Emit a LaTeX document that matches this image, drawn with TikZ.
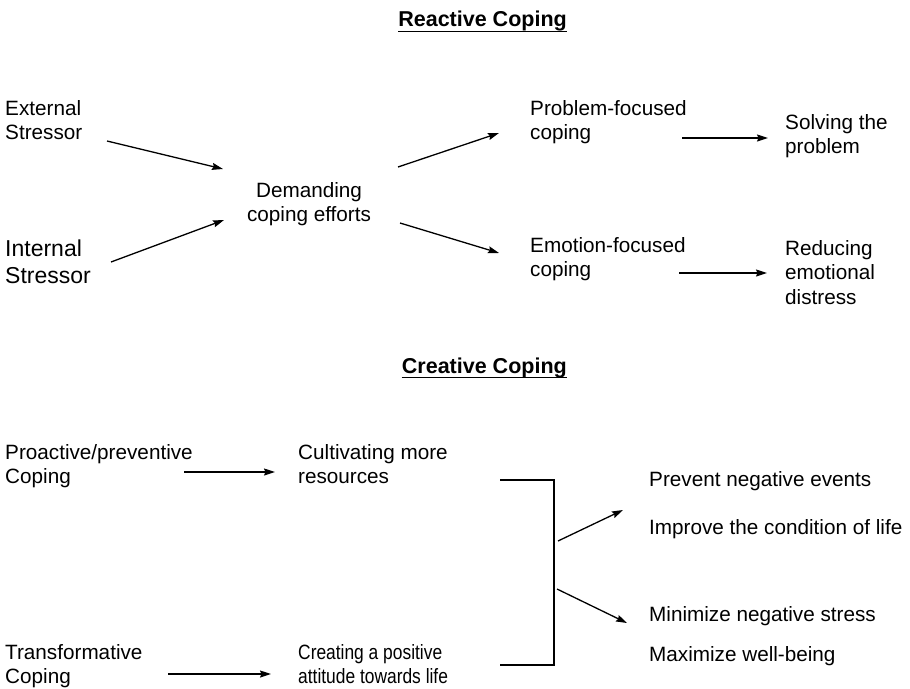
\documentclass[tikz,border=0pt]{standalone}
\usepackage{fontspec}
\setmainfont{Liberation Sans}
\newfontfamily\narrowfont[FakeStretch=0.84]{Liberation Sans}
\usetikzlibrary{arrows.meta}
\newcommand\leftlines[1]{\vtop{\halign{##\hfil\cr#1\crcr}}}
\newcommand\midlines[1]{\vtop{\halign{\hfil##\hfil\cr#1\crcr}}}
\begin{document}
\begin{tikzpicture}[x=1pt,y=-1pt,
  txt/.style={font=\fontsize{20.7}{24.5}\selectfont, inner sep=0pt, anchor=base west},
  bigtxt/.style={font=\fontsize{23}{27}\selectfont, inner sep=0pt, anchor=base west},
  ttl/.style={font=\fontsize{21.5}{26}\selectfont\bfseries, inner sep=0pt, anchor=base east},
  uline/.style={line width=1.8pt},
  arr/.style={line width=1.3pt, -{Stealth[length=11pt,width=7pt,inset=1.5pt]}},
  brk/.style={line width=2pt}]
\useasboundingbox (0,0) rectangle (910,688);

% ---------- Reactive coping ----------
\node[ttl] (t1) at (567,27) {Reactive Coping};
\draw[uline] ([yshift=-4.5pt]t1.base west) -- ([yshift=-4.5pt]t1.base east);

\node[txt] (ext) at (5,115) {\leftlines{External\cr Stressor}};
\node[bigtxt] (int) at (5,256) {\leftlines{Internal\cr Stressor}};
\node[txt, anchor=base] (dem) at (309,197) {\midlines{Demanding\cr coping efforts}};
\node[txt] (pfc) at (530,115) {\leftlines{Problem-focused\cr coping}};
\node[txt] (efc) at (530,252) {\leftlines{Emotion-focused\cr coping}};
\node[txt] (sol) at (785,129) {\leftlines{Solving the\cr problem}};
\node[txt] (red) at (785,255) {\leftlines{Reducing\cr emotional\cr distress}};

\coordinate (a1s) at (107,141); \coordinate (a1e) at (223,169);
\coordinate (a2s) at (111,262); \coordinate (a2e) at (224,220);
\coordinate (a3s) at (398,167); \coordinate (a3e) at (499,133);
\coordinate (a4s) at (400,223); \coordinate (a4e) at (499,253);
\coordinate (a5s) at (682,138); \coordinate (a5e) at (768,138);
\coordinate (a6s) at (679,273); \coordinate (a6e) at (767,273);
\draw[arr] (a1s) -- (a1e);
\draw[arr] (a2s) -- (a2e);
\draw[arr] (a3s) -- (a3e);
\draw[arr] (a4s) -- (a4e);
\draw[arr] (a5s) -- (a5e);
\draw[arr] (a6s) -- (a6e);

% ---------- Creative coping ----------
\node[ttl] (t2) at (567,373) {Creative Coping};
\draw[uline] ([yshift=-4.5pt]t2.base west) -- ([yshift=-4.5pt]t2.base east);

\node[txt] (pro) at (5,459) {\leftlines{Proactive/preventive\cr Coping}};
\node[txt] (tra) at (5,659) {\leftlines{Transformative\cr Coping}};
\node[txt] (cul) at (298,459) {\leftlines{Cultivating more\cr resources}};
\node[txt] (cre) at (298,659) {\narrowfont\leftlines{Creating a positive\cr attitude towards life}};

\node[txt] (r1) at (649,486) {Prevent negative events};
\node[txt] (r2) at (649,534) {Improve the condition of life};
\node[txt] (r3) at (649,621) {Minimize negative stress};
\node[txt] (r4) at (649,661) {Maximize well-being};

\coordinate (a7s) at (184,472); \coordinate (a7e) at (275,472);
\coordinate (a8s) at (168,674); \coordinate (a8e) at (271,674);
\draw[arr] (a7s) -- (a7e);
\draw[arr] (a8s) -- (a8e);

\coordinate (bt) at (500,480); \coordinate (btr) at (554,480);
\coordinate (bbr) at (554,665); \coordinate (bb) at (500,665);
\draw[brk] (bt) -- (btr) -- (bbr) -- (bb);

\coordinate (a9s) at (558,541); \coordinate (a9e) at (623,510);
\coordinate (a10s) at (557,589); \coordinate (a10e) at (627,623);
\draw[arr] (a9s) -- (a9e);
\draw[arr] (a10s) -- (a10e);
\end{tikzpicture}
\end{document}
